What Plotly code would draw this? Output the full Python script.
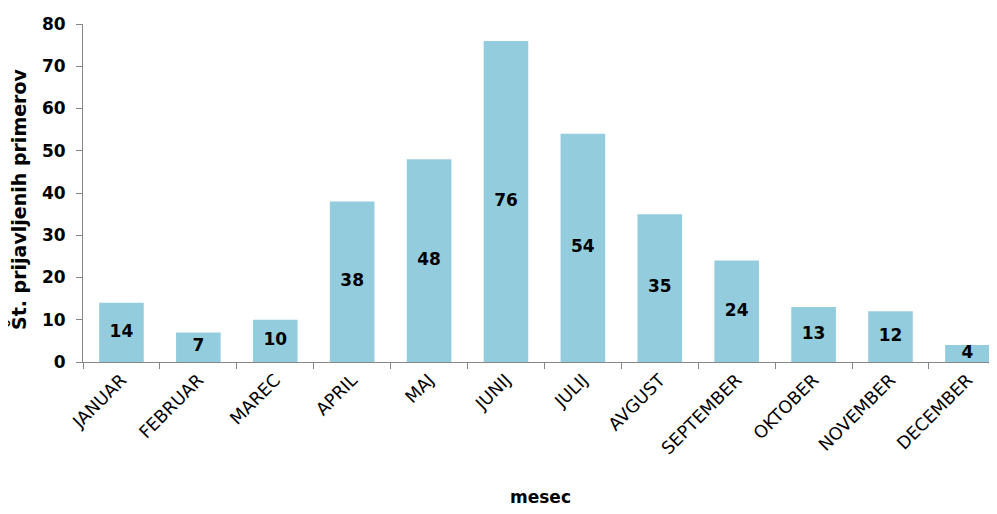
import plotly.graph_objects as go

months = ["JANUAR", "FEBRUAR", "MAREC", "APRIL", "MAJ", "JUNIJ", "JULIJ",
          "AVGUST", "SEPTEMBER", "OKTOBER", "NOVEMBER", "DECEMBER"]
counts = [14, 7, 10, 38, 48, 76, 54, 35, 24, 13, 12, 4]
y_ticks = [0, 10, 20, 30, 40, 50, 60, 70, 80]

FONT = "DejaVu Sans"
BAR = "#93CDDD"
AXIS = "#868686"

fig = go.Figure()
fig.add_trace(go.Bar(
    x=months, y=counts, marker=dict(color=BAR, line=dict(width=0)),
    hoverinfo="skip", showlegend=False,
))
fig.add_trace(go.Scatter(
    x=months, y=[v / 2 for v in counts], mode="text",
    text=["<b>%d</b>" % v for v in counts],
    textfont=dict(family=FONT, size=17, color="#000000"),
    textposition="middle center", hoverinfo="skip", showlegend=False,
))
fig.update_layout(
    width=989, height=514,
    margin=dict(l=75, r=0, t=16, b=160, autoexpand=False),
    paper_bgcolor="white", plot_bgcolor="white",
    bargap=0.42,
    font=dict(family=FONT, color="#000000"),
    xaxis=dict(
        range=[-0.5, 11.385], tickangle=-45,
        tickfont=dict(family=FONT, size=17.5, color="#000000"),
        showline=True, linecolor=AXIS, linewidth=1,
        ticks="outside", tickson="boundaries", ticklen=6, tickcolor=AXIS,
        showgrid=False, automargin=False,
    ),
    yaxis=dict(
        range=[0, 80], tickvals=y_ticks,
        tickfont=dict(family=FONT, size=17, color="#000000", weight="bold"),
        ticklabelstandoff=7,
        showline=True, linecolor=AXIS, linewidth=1,
        ticks="outside", ticklen=6, tickcolor=AXIS,
        showgrid=False, zeroline=False, automargin=False,
    ),
    annotations=[
        dict(
            text="<b>Št. prijavljenih primerov</b>", textangle=-90,
            xref="paper", yref="paper", x=0, y=0.5,
            xanchor="center", yanchor="middle", xshift=-65, yshift=-7,
            showarrow=False, font=dict(family=FONT, size=19, color="#000000"),
        ),
        dict(
            text="<b>mesec</b>",
            xref="paper", yref="paper", x=0.5, y=0,
            xanchor="center", yanchor="middle", yshift=-135,
            showarrow=False, font=dict(family=FONT, size=17, color="#000000"),
        ),
    ],
)
fig.write_html("out.html")
